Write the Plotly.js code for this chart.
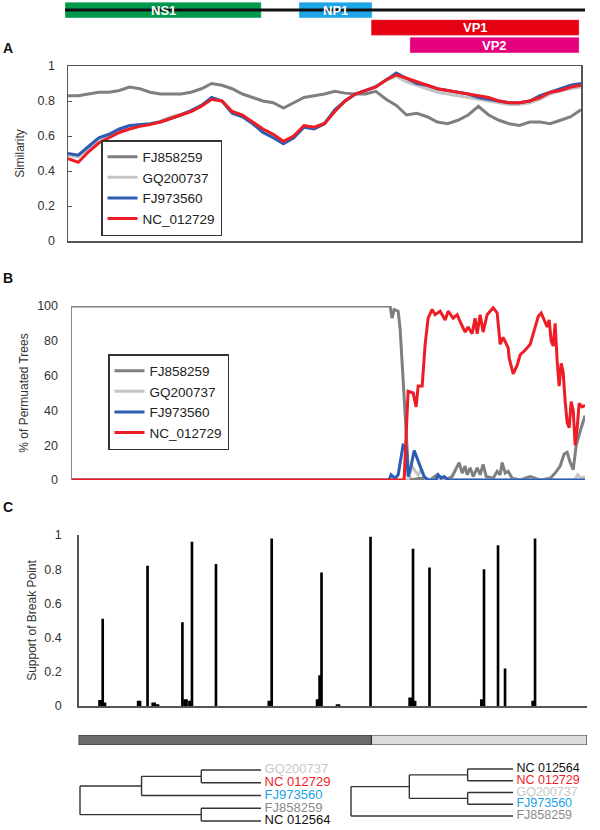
<!DOCTYPE html>
<html><head><meta charset="utf-8">
<script src="https://cdn.plot.ly/plotly-3.0.1.min.js"></script>
<style>html,body{margin:0;padding:0;background:#fff}#chart{width:600px;height:830px}</style>
</head><body><div id="chart"></div>
<script>
// ---------- DATA ----------
// genome map (nt)
const genomeLength = 5300;
const geneNames = ['NS1', 'NP1', 'VP1', 'VP2'];
const geneStart = [0, 2385, 3120, 3515];
const geneEnd = [2000, 3130, 5240, 5240];
const geneRow = [0, 0, 1, 2];

// Panel A: similarity plot
const posA = [0,100,200,300,400,500,600,700,800,900,1000,1100,1200,1300,1400,1500,1600,1700,1800,1900,2000,2100,2200,2300,2400,2500,2600,2700,2800,2900,3000,3100,3200,3300,3400,3500,3600,3700,3800,3900,4000,4100,4200,4300,4400,4500,4600,4700,4800,4900,5000];
const simFJ858259 = [0.83,0.83,0.84,0.85,0.85,0.86,0.88,0.87,0.85,0.84,0.84,0.84,0.85,0.87,0.90,0.89,0.87,0.84,0.82,0.80,0.79,0.76,0.79,0.82,0.83,0.84,0.855,0.845,0.84,0.84,0.855,0.81,0.775,0.72,0.73,0.71,0.68,0.67,0.69,0.72,0.77,0.72,0.69,0.67,0.66,0.68,0.68,0.67,0.69,0.71,0.75];
const simGQ200737 = [0.49,0.48,0.53,0.58,0.60,0.63,0.65,0.665,0.67,0.685,0.71,0.725,0.745,0.775,0.81,0.80,0.74,0.72,0.68,0.63,0.60,0.565,0.60,0.655,0.65,0.675,0.74,0.80,0.84,0.86,0.885,0.92,0.94,0.91,0.89,0.87,0.85,0.84,0.83,0.82,0.81,0.80,0.79,0.78,0.78,0.79,0.81,0.84,0.86,0.87,0.88];
const simFJ973560 = [0.50,0.49,0.54,0.59,0.61,0.64,0.66,0.665,0.67,0.68,0.70,0.72,0.745,0.775,0.82,0.80,0.73,0.71,0.67,0.62,0.59,0.555,0.59,0.65,0.64,0.67,0.75,0.80,0.84,0.86,0.88,0.92,0.96,0.93,0.90,0.89,0.87,0.86,0.85,0.84,0.82,0.81,0.80,0.79,0.79,0.80,0.83,0.85,0.87,0.89,0.90];
const simNC012729 = [0.47,0.45,0.51,0.56,0.59,0.62,0.64,0.655,0.665,0.68,0.70,0.72,0.74,0.77,0.81,0.80,0.74,0.72,0.68,0.64,0.61,0.57,0.60,0.66,0.65,0.67,0.74,0.80,0.84,0.86,0.88,0.92,0.95,0.93,0.91,0.89,0.87,0.86,0.85,0.84,0.83,0.82,0.80,0.79,0.79,0.80,0.82,0.85,0.86,0.88,0.89];

// Panel B: % of permuted trees
const posB_FJ858259 = [0,3100,3120,3140,3179,3198,3227,3257,3276,3296,3393,3490,3559,3637,3705,3773,3803,3832,3851,3881,3910,3949,3978,4007,4037,4105,4144,4173,4193,4222,4251,4290,4368,4466,4563,4661,4709,4758,4797,4826,4856,4885,4914,4953,5000];
const pctFJ858259 = [100,100,93,98,97,87,58,30,8,0,1,0,3,0,2,10,4,8,3,7,2,7,3,9,2,1,5,3,10,4,5,1,0,2,0,1,4,8,15,16,10,6,20,28,37];
const posB_GQ200737 = [0,3276,3315,3345,3374,3403,3442,3490,4900,4930,4960,5000];
const pctGQ200737 = [0,0,8,5,3,6,1,0,0,3,1,2];
const posB_FJ973560 = [0,3091,3110,3149,3179,3198,3227,3257,3276,3305,3335,3354,3374,3403,3432,3471,3549,3569,3598,3627,3666,5000];
const pctFJ973560 = [0,0,3,1,3,9,20,19,2,8,17,14,11,7,2,0,0,3,1,2,0,0];
const posB_NC012729 = [0,3237,3276,3325,3354,3374,3413,3442,3471,3510,3539,3588,3637,3666,3715,3754,3783,3832,3861,3900,3929,3949,3978,4007,4046,4076,4105,4144,4173,4202,4251,4261,4300,4339,4368,4407,4466,4505,4544,4573,4612,4631,4651,4670,4690,4709,4729,4748,4768,4787,4807,4826,4846,4865,4885,4904,4924,4943,4973,5000];
const pctNC012729 = [0,0,51,50,42,54,54,78,93,98,95,97,92,97,93,95,91,85,88,84,93,84,95,85,95,97,99,96,78,82,76,70,61,66,72,74,78,86,94,96,91,88,92,80,77,90,68,54,67,62,45,33,30,45,40,20,30,44,42,43];

// Panel C: support of break point
const bpPos = [215,237,250,595,678,738,772,1021,1052,1100,1115,1351,1880,1899,2355,2370,2389,2551,2871,3265,3289,3300,3451,3970,3987,4125,4194,4475,4489];
const bpSupport = [0.035,0.51,0.02,0.03,0.82,0.02,0.01,0.49,0.04,0.03,0.96,0.83,0.03,0.98,0.04,0.18,0.78,0.01,0.99,0.05,0.92,0.03,0.81,0.04,0.80,0.94,0.22,0.03,0.98];
const segStart = [0, 2880];
const segEnd = [2880, 5000];

// Trees (node depth, children); leaves are names
const treeLeft = {d: 0, c: [
  {d: 0.34, c: [{d: 0.67, c: ['GQ200737', 'NC 012729']}, 'FJ973560']},
  {d: 0.67, c: ['FJ858259', 'NC 012564']}
]};
const treeRight = {d: 0, c: [
  {d: 0.36, c: [{d: 0.72, c: ['NC 012564', 'NC 012729']}, {d: 0.72, c: ['GQ200737', 'FJ973560']}]},
  'FJ858259'
]};

// ---------- STYLE ----------
const FONT = 'Liberation Sans, Arial, sans-serif';
const seriesNames = ['FJ858259', 'GQ200737', 'FJ973560', 'NC_012729'];
const seriesColors = ['#7f7f7f', '#c4c4c4', '#2c5db5', '#ee1c25'];
const labelColors = {'GQ200737': '#c8c8c8', 'NC 012729': '#ee1c25', 'FJ973560': '#1aa3e8', 'FJ858259': '#8a8a8a', 'NC 012564': '#111111'};
const geneColors = {'NS1': '#00994c', 'NP1': '#1ea5e6', 'VP1': '#e50012', 'VP2': '#e5007e'};

const W = 600, H = 830;
const dx = (a, b) => [a / W, b / W];
const dy = (top, bottom) => [1 - bottom / H, 1 - top / H];

const traces = [];

// genome map
traces.push({type: 'scatter', mode: 'lines', x: [0, genomeLength], y: [0, 0], xaxis: 'x5', yaxis: 'y5',
  line: {color: '#111', width: 3}, showlegend: false, hoverinfo: 'skip'});
traces.push({type: 'bar', orientation: 'h', xaxis: 'x5', yaxis: 'y5',
  y: geneRow, base: geneStart, x: geneStart.map((s, i) => geneEnd[i] - s), width: 0.9, cliponaxis: false,
  marker: {color: geneNames.map(n => geneColors[n]), line: {color: 'rgba(255,255,255,0.35)', width: 1}}, showlegend: false});
const geneLabels = geneNames.map((n, i) => ({
  text: '<b>' + n + '</b>', xref: 'x5', yref: 'y5', x: (geneStart[i] + geneEnd[i]) / 2, y: geneRow[i],
  showarrow: false, xanchor: 'center', yanchor: 'middle', font: {family: FONT, size: 13, color: '#fff'}
}));

// panel A
const simA = [simFJ858259, simGQ200737, simFJ973560, simNC012729];
simA.forEach((ys, i) => traces.push({type: 'scatter', mode: 'lines', x: posA, y: ys, xaxis: 'x', yaxis: 'y',
  name: seriesNames[i], legend: 'legend', line: {color: seriesColors[i], width: 3}}));

// panel B
const posB = [posB_FJ858259, posB_GQ200737, posB_FJ973560, posB_NC012729];
const pctB = [pctFJ858259, pctGQ200737, pctFJ973560, pctNC012729];
pctB.forEach((ys, i) => traces.push({type: 'scatter', mode: 'lines', x: posB[i], y: ys, xaxis: 'x2', yaxis: 'y2',
  name: seriesNames[i], legend: 'legend2', line: {color: seriesColors[i], width: 3}}));

// panel C
traces.push({type: 'bar', x: bpPos, y: bpSupport, xaxis: 'x3', yaxis: 'y3',
  width: bpSupport.map(v => v < 0.1 ? 45 : 26), marker: {color: '#000', line: {width: 0}}, showlegend: false});
traces.push({type: 'bar', orientation: 'h', x: segStart.map((s, i) => segEnd[i] - s), base: segStart, y: [0, 0],
  xaxis: 'x3', yaxis: 'y4', width: 1, marker: {color: ['#6b6b6b', '#dcdcdc'], line: {color: '#333', width: 1.2}}, showlegend: false});

// trees
function treeLines(tree) {
  const xs = [], ys = [], leaves = [];
  let idx = 0;
  function walk(node) {
    if (typeof node === 'string') { const y = idx++; leaves.push({name: node, y}); return {x: 1, y}; }
    const kids = node.c.map(walk);
    const y0 = kids[0].y, y1 = kids[kids.length - 1].y;
    xs.push(node.d, node.d, null); ys.push(y0, y1, null);
    kids.forEach(k => { xs.push(node.d, k.x, null); ys.push(k.y, k.y, null); });
    return {x: node.d, y: (y0 + y1) / 2};
  }
  walk(tree);
  return {xs, ys, leaves};
}
[[treeLeft, 'x6', 'y6', 13], [treeRight, 'x7', 'y7', 12.5]].forEach(([t, xa, ya, fs]) => {
  const r = treeLines(t);
  traces.push({type: 'scatter', mode: 'lines', x: r.xs, y: r.ys, xaxis: xa, yaxis: ya,
    line: {color: '#333', width: 1.4}, showlegend: false, hoverinfo: 'skip'});
  traces.push({type: 'scatter', mode: 'text', x: r.leaves.map(() => 1), y: r.leaves.map(l => l.y),
    text: r.leaves.map(l => ' ' + l.name), textposition: 'middle right', cliponaxis: false, xaxis: xa, yaxis: ya,
    textfont: {family: FONT, size: fs, color: r.leaves.map(l => labelColors[l.name])}, showlegend: false});
});

const tickFont = {family: FONT, size: 12.5, color: '#333'};
const titleFont = {family: FONT, size: 12, color: '#333'};
const hidden = {visible: false, showgrid: false, zeroline: false, fixedrange: true};
const legendStyle = {xanchor: 'left', yanchor: 'top', bgcolor: '#fff', bordercolor: '#333', borderwidth: 1.5,
  font: {family: FONT, size: 13.5, color: '#222'}, tracegroupgap: 0, itemwidth: 30};

const layout = {
  width: W, height: H, margin: {l: 0, r: 0, t: 0, b: 0}, paper_bgcolor: '#fff', plot_bgcolor: 'rgba(0,0,0,0)',
  font: {family: FONT}, barmode: 'overlay', showlegend: true,
  xaxis: {domain: dx(68, 581), range: [0, 5000], anchor: 'y', showgrid: false, zeroline: false, showticklabels: false,
    ticks: '', showline: true, mirror: true, linecolor: '#555', linewidth: 1.5},
  yaxis: {domain: dy(66, 241), range: [0, 1], dtick: 0.2, anchor: 'x', showgrid: false, zeroline: false,
    ticks: 'inside', ticklen: 4, tickcolor: '#555', showline: true, mirror: true, linecolor: '#555', linewidth: 1.5,
    tickfont: tickFont, ticklabelstandoff: 9, title: {text: 'Similarity', font: titleFont, standoff: 10}},
  xaxis2: {domain: dx(72, 585), range: [0, 5000], anchor: 'y2', showgrid: false, zeroline: false, showticklabels: false, ticks: '', showline: false},
  yaxis2: {domain: dy(306, 480), range: [0, 100], dtick: 20, anchor: 'x2', showgrid: false, zeroline: false, ticks: '',
    showline: true, linecolor: '#888', linewidth: 1.5, tickfont: tickFont, ticklabelstandoff: 10,
    title: {text: '% of Permuated Trees', font: titleFont, standoff: 6}},
  xaxis3: {domain: dx(78.6, 587), range: [0, 5000], anchor: 'y3', showgrid: false, zeroline: false, showticklabels: false, ticks: '',
    showline: true, linecolor: '#555', linewidth: 1.5},
  yaxis3: {domain: dy(535, 706), range: [0, 1], dtick: 0.2, anchor: 'x3', showgrid: false, zeroline: false, ticks: '',
    showline: true, linecolor: '#555', linewidth: 1.5, tickfont: tickFont, ticklabelstandoff: 13,
    title: {text: 'Support of Break Point', font: titleFont, standoff: 5}},
  yaxis4: Object.assign({domain: dy(735, 745), range: [-0.5, 0.5], anchor: 'x3'}, hidden),
  xaxis5: Object.assign({domain: dx(65, 585), range: [0, genomeLength], anchor: 'y5'}, hidden),
  yaxis5: Object.assign({domain: dy(1.25, 53.75), range: [2.5, -0.5], anchor: 'x5'}, hidden),
  xaxis6: Object.assign({domain: dx(80 - 9.05, 261 + 9.05), range: [-0.05, 1.05], anchor: 'y6'}, hidden),
  yaxis6: Object.assign({domain: dy(763.6, 827.4), range: [4.5, -0.5], anchor: 'x6'}, hidden),
  xaxis7: Object.assign({domain: dx(351 - 8.1, 513 + 8.1), range: [-0.05, 1.05], anchor: 'y7'}, hidden),
  yaxis7: Object.assign({domain: dy(763.1, 821.9), range: [4.5, -0.5], anchor: 'x7'}, hidden),
  legend: Object.assign({x: 101 / W, y: 1 - 140 / H}, legendStyle),
  legend2: Object.assign({x: 108 / W, y: 1 - 354 / H}, legendStyle),
  annotations: [
    {text: '<b>A</b>', x: 8 / W, y: 1 - 48 / H},
    {text: '<b>B</b>', x: 8 / W, y: 1 - 278 / H},
    {text: '<b>C</b>', x: 8 / W, y: 1 - 507 / H}
  ].map(a => Object.assign({xref: 'paper', yref: 'paper', showarrow: false, xanchor: 'center', yanchor: 'middle',
    font: {family: FONT, size: 14, color: '#111'}}, a)).concat(geneLabels)
};

Plotly.newPlot('chart', traces, layout, {staticPlot: true, displayModeBar: false});
</script></body></html>
